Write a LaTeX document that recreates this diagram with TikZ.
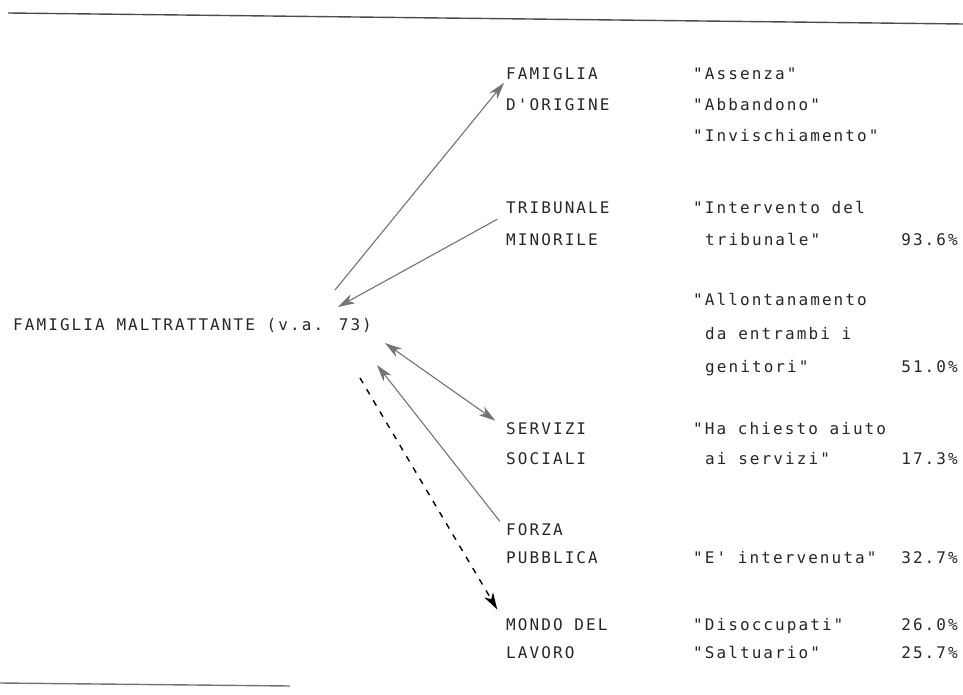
\documentclass[tikz,border=0pt]{standalone}
\usepackage{fontspec}
\newfontfamily\dotfont[LetterSpace=13]{DejaVu Sans Mono}
\usetikzlibrary{arrows.meta}
\tikzset{
  lbl/.style={anchor=base west, inner sep=0pt, text=black!85, font=\dotfont\fontsize{16}{19}\selectfont},
  pct/.style={lbl, anchor=base east},
  rel/.style={draw=black!55, line width=1.1pt, ->},
  rule/.style={draw=black!70, line width=1.4pt}
}
\begin{document}
\begin{tikzpicture}[x=1pt, y=-1pt, >={Stealth[length=17pt,width=10pt,inset=5pt]}]
	\useasboundingbox (0,0) rectangle (963,695);
	\draw[rule] (8,13) -- (963,24);
	\draw[rule, draw=black!55] (0,683) -- (290,686);
	\node[lbl] (maltr)  at (13,330)  {FAMIGLIA MALTRATTANTE (v.a. 73)};
	\node[lbl] (fam)    at (506,80)  {FAMIGLIA};
	\node[lbl] (orig)   at (506,111) {D'ORIGINE};
	\node[lbl] (trib)   at (506,214) {TRIBUNALE};
	\node[lbl] (minor)  at (506,245) {MINORILE};
	\node[lbl] (serv)   at (506,434) {SERVIZI};
	\node[lbl] (soc)    at (506,464) {SOCIALI};
	\node[lbl] (forza)  at (506,535) {FORZA};
	\node[lbl] (pubb)   at (506,563) {PUBBLICA};
	\node[lbl] (mondo)  at (506,630) {MONDO DEL};
	\node[lbl] (lavoro) at (506,658) {LAVORO};
	\node[lbl] (ass)    at (693,80)  {"Assenza"};
	\node[lbl] (abb)    at (693,111) {"Abbandono"};
	\node[lbl] (inv)    at (693,142) {"Invischiamento"};
	\node[lbl] (int1)   at (693,214) {"Intervento del};
	\node[lbl] (int2)   at (705,245) {tribunale"};
	\node[lbl] (all1)   at (693,305) {"Allontanamento};
	\node[lbl] (all2)   at (705,339) {da entrambi i};
	\node[lbl] (all3)   at (705,372) {genitori"};
	\node[lbl] (aiu1)   at (693,434) {"Ha chiesto aiuto};
	\node[lbl] (aiu2)   at (705,464) {ai servizi"};
	\node[lbl] (interv) at (693,563) {"E' intervenuta"};
	\node[lbl] (disocc) at (693,630) {"Disoccupati"};
	\node[lbl] (saltu)  at (693,658) {"Saltuario"};
	\node[pct] (p936) at (958,245) {93.6\%};
	\node[pct] (p510) at (958,372) {51.0\%};
	\node[pct] (p173) at (958,464) {17.3\%};
	\node[pct] (p327) at (958,563) {32.7\%};
	\node[pct] (p260) at (958,630) {26.0\%};
	\node[pct] (p257) at (958,658) {25.7\%};
	\coordinate (m1) at (335,290);
	\coordinate (m2) at (338,307);
	\coordinate (m3) at (385,343);
	\coordinate (m4) at (377,365);
	\coordinate (m5) at (360,378);
	\draw[rel, shorten >=3pt] (m1) -- (fam.south west);
	\draw[rel, shorten <=10pt] (trib.south west) -- (m2);
	\draw[rel, <->, shorten >=13pt] (m3) -- (serv.west);
	\draw[rel, shorten <=10pt] (forza.west) -- (m4);
	\draw[rel, draw=black, line width=1.4pt, dash pattern=on 6pt off 7pt, shorten >=17pt] (m5) -- (mondo.west);
\end{tikzpicture}
\end{document}
